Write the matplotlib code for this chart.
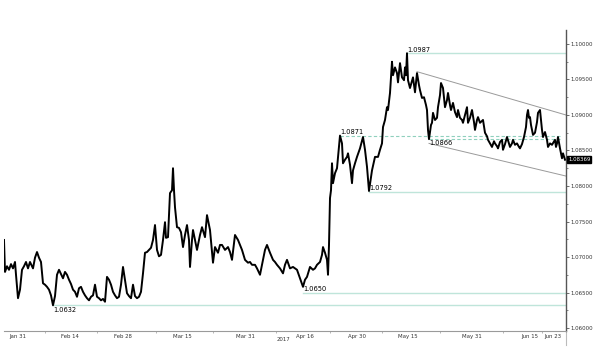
import numpy as np
import matplotlib
matplotlib.use('Agg')
import matplotlib.pyplot as plt
from matplotlib.ticker import FixedLocator, MultipleLocator, FormatStrFormatter

# bar number (chart time position) and closing price
bar = [4, 5, 7, 9, 11, 13, 15, 16, 18, 20, 22, 24, 26, 28, 30, 33, 35, 37, 39, 41,
       43, 45, 47, 49, 51, 53, 55, 57, 59, 61, 63, 65, 67, 69, 71, 73, 75, 77, 79, 81,
       83, 85, 87, 89, 91, 93, 95, 97, 99, 101, 103, 105, 107, 109, 111, 113, 115, 117, 119, 121,
       123, 125, 127, 129, 131, 133, 135, 137, 139, 141, 143, 145, 147, 149, 151, 153, 155, 157, 159, 161,
       163, 165, 166, 168, 170, 172, 173, 174, 175, 177, 179, 181, 183, 185, 187, 189, 190, 192, 193, 195,
       197, 200, 202, 205, 207, 209, 210, 213, 215, 218, 220, 222, 225, 228, 230, 232, 235, 238, 240, 242,
       245, 248, 250, 252, 255, 257, 260, 263, 265, 267, 270, 273, 275, 277, 280, 283, 285, 287, 290, 293,
       295, 297, 300, 303, 305, 307, 310, 313, 315, 317, 320, 322, 323, 325, 327, 328, 329, 330, 331, 332,
       333, 335, 337, 340, 342, 343, 345, 347, 348, 350, 352, 353, 355, 357, 360, 363, 365, 367, 369, 372,
       375, 378, 380, 382, 383, 385, 387, 388, 390, 392, 393, 395, 397, 398, 400, 402, 404, 405, 406, 407,
       408, 410, 413, 415, 417, 419, 420, 422, 424, 426, 427, 428, 429, 431, 432, 433, 435, 437, 438, 440,
       441, 443, 445, 447, 448, 450, 451, 453, 455, 457, 458, 460, 462, 463, 465, 467, 468, 470, 472, 474,
       475, 477, 478, 480, 483, 485, 487, 488, 490, 492, 494, 495, 497, 498, 500, 502, 503, 505, 507, 509,
       510, 512, 513, 515, 517, 519, 520, 522, 524, 526, 527, 528, 529, 530, 531, 533, 535, 537, 538, 540,
       541, 542, 543, 545, 547, 548, 550, 552, 555, 556, 557, 558, 560, 562, 563, 565]
close = [1.0724, 1.0679, 1.0687, 1.0682, 1.0690, 1.0684, 1.0693, 1.0675, 1.0642, 1.0654,
         1.0682, 1.0687, 1.0693, 1.0684, 1.0693, 1.0684, 1.0699, 1.0707, 1.0699, 1.0693,
         1.0663, 1.0661, 1.0658, 1.0654, 1.0646, 1.0632, 1.0645, 1.0675, 1.0682, 1.0676,
         1.0670, 1.0679, 1.0675, 1.0668, 1.0662, 1.0654, 1.0651, 1.0644, 1.0656, 1.0658,
         1.0651, 1.0646, 1.0642, 1.0639, 1.0644, 1.0646, 1.0661, 1.0644, 1.0642, 1.0639,
         1.0641, 1.0637, 1.0672, 1.0668, 1.0661, 1.0651, 1.0646, 1.0642, 1.0644, 1.0661,
         1.0686, 1.0668, 1.0649, 1.0645, 1.0642, 1.0661, 1.0645, 1.0642, 1.0644, 1.0651,
         1.0677, 1.0706, 1.0707, 1.0710, 1.0713, 1.0724, 1.0745, 1.0710, 1.0701, 1.0703,
         1.0724, 1.0749, 1.0727, 1.0728, 1.0790, 1.0794, 1.0825, 1.0794, 1.0770, 1.0742,
         1.0741, 1.0735, 1.0714, 1.0731, 1.0745, 1.0724, 1.0686, 1.0724, 1.0738, 1.0724,
         1.0710, 1.0731, 1.0742, 1.0728, 1.0759, 1.0745, 1.0738, 1.0692, 1.0714, 1.0706,
         1.0717, 1.0717, 1.0710, 1.0714, 1.0707, 1.0696, 1.0731, 1.0724, 1.0717, 1.0710,
         1.0696, 1.0692, 1.0693, 1.0689, 1.0689, 1.0684, 1.0675, 1.0696, 1.0710, 1.0717,
         1.0706, 1.0696, 1.0693, 1.0689, 1.0684, 1.0677, 1.0689, 1.0696, 1.0684, 1.0686,
         1.0684, 1.0682, 1.0670, 1.0658, 1.0668, 1.0672, 1.0686, 1.0682, 1.0684, 1.0689,
         1.0693, 1.0703, 1.0714, 1.0706, 1.0696, 1.0675, 1.0717, 1.0783, 1.0794, 1.0832,
         1.0804, 1.0818, 1.0825, 1.0871, 1.0860, 1.0832, 1.0837, 1.0841, 1.0846, 1.0830,
         1.0804, 1.0822, 1.0832, 1.0841, 1.0853, 1.0869, 1.0851, 1.0827, 1.0793, 1.0822,
         1.0841, 1.0841, 1.0851, 1.0860, 1.0883, 1.0893, 1.0911, 1.0907, 1.0931, 1.0975,
         1.0956, 1.0967, 1.0959, 1.0946, 1.0973, 1.0953, 1.0949, 1.0967, 1.0956, 1.0987,
         1.0949, 1.0938, 1.0953, 1.0932, 1.0959, 1.0942, 1.0935, 1.0924, 1.0925, 1.0914,
         1.0907, 1.0879, 1.0866, 1.0886, 1.0889, 1.0903, 1.0893, 1.0896, 1.0911, 1.0928,
         1.0945, 1.0938, 1.0911, 1.0921, 1.0931, 1.0914, 1.0907, 1.0917, 1.0904, 1.0897,
         1.0907, 1.0896, 1.0893, 1.0889, 1.0900, 1.0911, 1.0889, 1.0896, 1.0907, 1.0890,
         1.0879, 1.0893, 1.0897, 1.0889, 1.0893, 1.0875, 1.0870, 1.0865, 1.0860, 1.0855,
         1.0863, 1.0860, 1.0856, 1.0853, 1.0862, 1.0865, 1.0851, 1.0859, 1.0869, 1.0860,
         1.0855, 1.0860, 1.0865, 1.0858, 1.0860, 1.0855, 1.0853, 1.0859, 1.0869, 1.0883,
         1.0900, 1.0907, 1.0896, 1.0897, 1.0886, 1.0872, 1.0875, 1.0890, 1.0903, 1.0907,
         1.0893, 1.0879, 1.0869, 1.0876, 1.0865, 1.0855, 1.0860, 1.0858, 1.0865, 1.0855,
         1.0860, 1.0869, 1.0853, 1.0839, 1.0846, 1.0837]

last_price = '1.08369'

# date labels on the time axis and period separators
tick_bar = [18, 70, 123, 182, 245, 305, 357, 408, 472, 530, 553]
tick_lab = ['Jan 31', 'Feb 14', 'Feb 28', 'Mar 15', 'Mar 31', 'Apr 16',
            'Apr 30', 'May 15', 'May 31', 'Jun 15', 'Jun 23']
sep_bar = [45, 97, 156, 213, 276, 330, 382, 440, 503, 542]
year_bar = 277

# support / resistance levels
solid_val = [1.0987, 1.0792, 1.0650, 1.0632]
solid_start = [407, 369, 303, 53]
dash_val = [1.0871, 1.0866]
dash_start = [340, 429]
dash_end = 560

# descending channel
chan_up_bar = [417, 566]
chan_up = [1.0961, 1.0900]
chan_lo_bar = [429, 566]
chan_lo = [1.0860, 1.0814]

x_end = 566
y_lo, y_hi = 1.05958, 1.10197
mint = '#bfe5da'

fig = plt.figure(figsize=(6.0, 3.58), dpi=100)
ax = fig.add_axes([4/600, 27/358, (566-4)/600, (331-30)/358])
ax.set_xlim(4, x_end)
ax.set_ylim(y_lo, y_hi)

for v, s in zip(solid_val, solid_start):
    ax.plot([s, x_end], [v, v], color=mint, lw=1.0, zorder=1)
for v, s in zip(dash_val, dash_start):
    ax.plot([s, dash_end], [v, v], color='#8fd0bd', lw=0.8, ls=(0, (3, 2)), zorder=1)

ax.plot(chan_up_bar, chan_up, color='#9a9a9a', lw=0.7, zorder=2)
ax.plot(chan_lo_bar, chan_lo, color='#9a9a9a', lw=0.7, zorder=2)

ax.plot(bar, close, color='black', lw=1.4, zorder=3)

# level captions
for v, s in zip(solid_val[:3] + dash_val[:1], solid_start[:3] + dash_start[:1]):
    ax.text(s, v + 0.0001, '%.4f' % v, fontsize=4.8, ha='left', va='bottom')
ax.text(dash_start[1], dash_val[1] - 0.0001, '%.4f' % dash_val[1],
        fontsize=4.8, ha='left', va='top')
ax.text(solid_start[3], solid_val[3] - 0.0002, '%.4f' % solid_val[3],
        fontsize=4.8, ha='left', va='top')

# axes styling
for side in ['top', 'left']:
    ax.spines[side].set_visible(False)
ax.spines['bottom'].set_color('#9a9a9a')
ax.spines['bottom'].set_linewidth(0.8)
ax.spines['right'].set_color('#555555')
ax.spines['right'].set_linewidth(1.0)

ax.yaxis.tick_right()
ax.yaxis.set_major_locator(MultipleLocator(0.005))
ax.yaxis.set_minor_locator(MultipleLocator(0.0025))
ax.yaxis.set_major_formatter(FormatStrFormatter('%.5f'))
ax.tick_params(axis='y', which='major', labelsize=3.9, length=2, width=0.5,
               pad=1, colors='#333333')
ax.tick_params(axis='y', which='minor', length=1.2, width=0.5, colors='#555555')

ax.xaxis.set_major_locator(FixedLocator(tick_bar))
ax.set_xticklabels(tick_lab)
ax.xaxis.set_minor_locator(FixedLocator(sep_bar))
ax.tick_params(axis='x', which='major', labelsize=3.9, length=0, pad=2.5,
               colors='#333333')
ax.tick_params(axis='x', which='minor', length=1.5, width=0.5, colors='#9a9a9a')

# year caption and cursor line below last bar
ax.text(year_bar, y_lo - 0.0008, '2017', fontsize=3.9, ha='left', va='top',
        color='#333333')
ax.plot([x_end, x_end], [y_lo, y_lo - 0.002], color='#bbbbbb', lw=0.8,
        clip_on=False)

# last price tag
ax.text(x_end + 2, float(last_price), last_price, fontsize=3.9, color='white',
        ha='left', va='center', clip_on=False,
        bbox=dict(boxstyle='square,pad=0.15', fc='black', ec='black'))

fig.savefig('out.png', dpi=100)
